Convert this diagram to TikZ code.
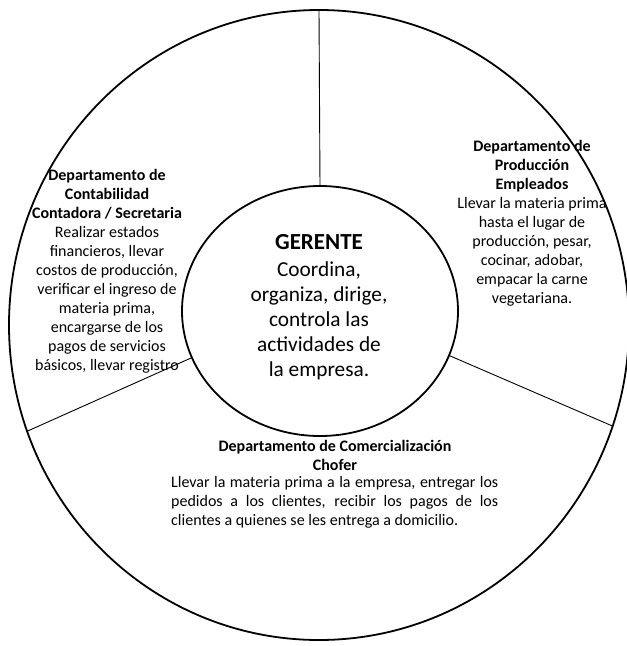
\documentclass[tikz,border=0pt]{standalone}
\usepackage{fontspec}
\setmainfont{Carlito}
\usetikzlibrary{shapes.geometric}
\tikzset{
  ring/.style={draw, ellipse, line width=1.8pt, inner sep=0pt, outer sep=0pt},
  divider/.style={line width=0.9pt},
  dept/.style={align=center, inner sep=0pt, font=\fontsize{16}{19}\selectfont},
  boss/.style={align=center, inner sep=0pt, font=\fontsize{21.3}{25}\selectfont}
}
\begin{document}
\begin{tikzpicture}[x=1pt,y=-1pt]
\useasboundingbox (0,0) rectangle (627,646);
% rings
\node[ring, minimum width=620pt, minimum height=630pt] (outer) at (319,325) {};
\node[ring, minimum width=276pt, minimum height=250pt] (inner) at (320,311) {};
% dividers between the three departments
\draw[divider] (inner.north) -- (outer.north);
\draw[divider] (inner.-19) -- (outer.-19.5);
\draw[divider] (inner.200) -- (outer.200.5);
% manager
\node[boss] (gerente) at (319,307) {{\fontsize{23}{25}\selectfont\textbf{GERENTE}}\\[2pt]Coordina,\\organiza, dirige,\\controla las\\actividades de\\la empresa.};
% accounting
\node[dept] (conta) at (107,271) {\textbf{Departamento de}\\\textbf{Contabilidad}\\\textbf{Contadora / Secretaria}\\Realizar estados\\financieros, llevar\\costos de producción,\\verificar el ingreso de\\materia prima,\\encargarse de los\\pagos de servicios\\básicos, llevar registro};
% production
\node[dept] (prod) at (532,223) {\textbf{Departamento de}\\\textbf{Producción}\\\textbf{Empleados}\\Llevar la materia prima\\hasta el lugar de\\producción, pesar,\\cocinar, adobar,\\empacar la carne\\vegetariana.};
% sales
\node[dept] (comer) at (335,455) {\textbf{Departamento de Comercialización}\\\textbf{Chofer}};
\node[dept, align=left, anchor=west] (comertxt) at (171,502) {\makebox[327pt][s]{Llevar la materia prima a la empresa, entregar los}\\\makebox[327pt][s]{pedidos a los clientes, recibir los pagos de los}\\clientes a quienes se les entrega a domicilio.};
\end{tikzpicture}
\end{document}
